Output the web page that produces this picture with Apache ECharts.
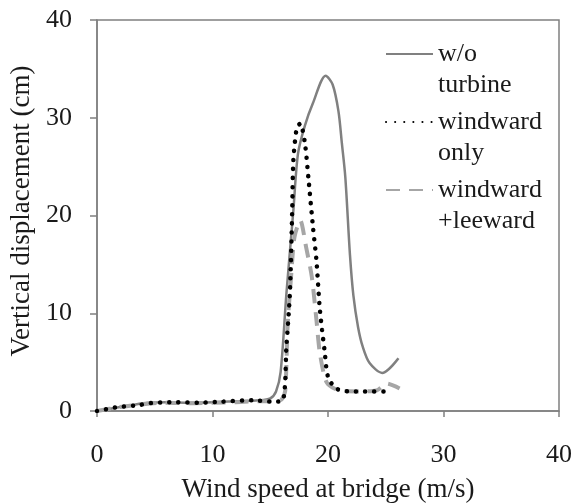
<!DOCTYPE html>
<html>
<head>
<meta charset="utf-8">
<script src="https://cdn.jsdelivr.net/npm/echarts@6/dist/echarts.min.js"></script>
<style>
html,body{margin:0;padding:0;background:#fff;}
#chart{width:576px;height:504px;}
</style>
</head>
<body>
<div id="chart"></div>
<script>
// Wind speed (m/s) and vertical displacement (cm)
var speedNoTurbine = [0, 2, 4, 6, 8, 10, 12, 14, 15, 15.5, 15.9, 16.4, 17.0, 17.4, 18.0, 18.7, 19.8, 20.4, 20.9, 21.2, 21.5, 21.9, 22.2, 22.6, 23.0, 23.6, 24.7, 26.1];
var dispNoTurbine  = [0, 0.4, 0.8, 0.9, 0.85, 0.9, 1.0, 1.1, 1.3, 2.0, 4.0, 12.0, 20.5, 26.3, 29.2, 31.5, 34.3, 33.4, 30.7, 27.4, 23.9, 16.0, 11.8, 8.6, 6.6, 4.9, 3.9, 5.4];

var speedWindward = [0, 1.8, 3.6, 4.6, 6.3, 9.0, 10.8, 13.5, 15.2, 16.1, 16.4, 16.7, 16.9, 17.0, 17.3, 17.6, 18.0, 18.3, 18.7, 19.0, 19.3, 19.7, 20.0, 20.7, 21.9, 23.6, 25.4];
var dispWindward  = [0, 0.4, 0.6, 0.8, 0.9, 0.85, 0.95, 1.1, 0.95, 1.1, 6.6, 12.0, 20.5, 25.6, 29.0, 29.4, 27.4, 23.9, 18.8, 15.4, 10.3, 6.2, 3.5, 2.3, 2.0, 2.0, 2.0];

var speedWindLee = [0, 2, 4, 6, 8, 10, 12, 14, 15.5, 16.0, 16.3, 16.5, 16.8, 17.1, 17.6, 18.1, 18.6, 19.0, 19.3, 19.9, 21.0, 22.8, 24.2, 25.1, 26.2];
var dispWindLee  = [0, 0.4, 0.7, 0.85, 0.8, 0.85, 0.9, 1.0, 1.0, 1.2, 2.1, 8.6, 13.7, 17.8, 19.5, 16.8, 13.7, 9.3, 5.9, 2.9, 2.1, 2.0, 2.1, 2.8, 2.3];

var seriesNames = ['w/o\nturbine', 'windward\nonly', 'windward\n+leeward'];
var xTicks = [0, 10, 20, 30, 40];
var yTicks = [0, 10, 20, 30, 40];

function pairs(xs, ys) { return xs.map(function (x, i) { return [x, ys[i]]; }); }

var font = 'Liberation Serif';
var chart = echarts.init(document.getElementById('chart'), null, {renderer: 'canvas'});
chart.setOption({
  animation: false,
  backgroundColor: '#ffffff',
  grid: {left: 97, right: 17, top: 20, bottom: 93, outerBoundsMode: 'none', containLabel: false,
         show: true, borderColor: '#808080', borderWidth: 1.5, backgroundColor: 'transparent'},
  legend: {
    orient: 'vertical', left: 385, top: 7.5, padding: 0,
    itemWidth: 47, itemHeight: 14, itemGap: -25,
    selectedMode: false,
    data: seriesNames,
    itemStyle: {opacity: 0},
    formatter: function (name) { return '\n' + name; },
    textStyle: {fontFamily: font, fontSize: 26, color: '#1a1a1a', lineHeight: 31}
  },
  xAxis: {
    type: 'value', min: xTicks[0], max: xTicks[xTicks.length - 1], interval: 10,
    name: 'Wind speed at bridge (m/s)', nameLocation: 'middle', nameGap: 65,
    nameTextStyle: {fontFamily: font, fontSize: 27, color: '#1a1a1a'},
    axisLine: {show: true, lineStyle: {color: '#808080', width: 1.5}},
    axisTick: {show: true, length: 6, lineStyle: {color: '#808080', width: 1.5}},
    axisLabel: {fontFamily: font, fontSize: 26, color: '#1a1a1a', margin: 31},
    splitLine: {show: false}
  },
  yAxis: {
    type: 'value', min: yTicks[0], max: yTicks[yTicks.length - 1], interval: 10,
    name: 'Vertical displacement (cm)', nameLocation: 'middle', nameGap: 61,
    nameTextStyle: {fontFamily: font, fontSize: 27, color: '#1a1a1a', padding: [0, 0, 0, 9]},
    axisLine: {show: true, lineStyle: {color: '#808080', width: 1.5}},
    axisTick: {show: true, length: 7, lineStyle: {color: '#808080', width: 1.5}},
    axisLabel: {fontFamily: font, fontSize: 26, color: '#1a1a1a', margin: 25},
    splitLine: {show: false}
  },
  series: [
    {
      name: seriesNames[0], type: 'line', data: pairs(speedNoTurbine, dispNoTurbine),
      symbol: 'none', smooth: 0.3, z: 2,
      lineStyle: {color: '#808080', width: 2.5}, itemStyle: {color: '#808080'}
    },
    {
      name: seriesNames[1], type: 'line', data: pairs(speedWindward, dispWindward),
      symbol: 'none', smooth: 0.25, z: 4,
      lineStyle: {color: '#000000', width: 4.5, type: [0.1, 9], cap: 'round'}, itemStyle: {color: '#000000'}
    },
    {
      name: seriesNames[2], type: 'line', data: pairs(speedWindLee, dispWindLee),
      symbol: 'none', smooth: 0.25, z: 3,
      lineStyle: {color: '#a6a6a6', width: 4, type: [14, 9]}, itemStyle: {color: '#a6a6a6'}
    }
  ]
});
</script>
</body>
</html>
